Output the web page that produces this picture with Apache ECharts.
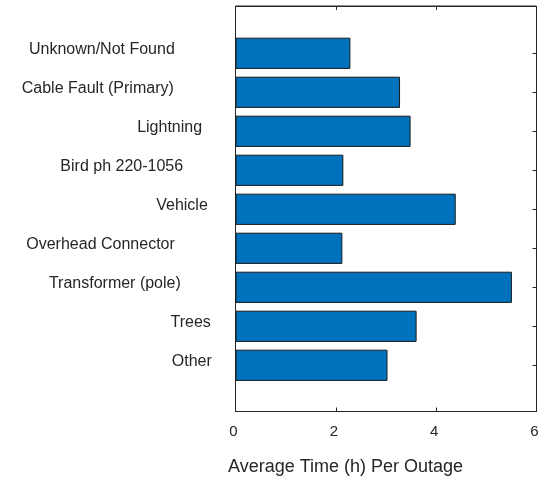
<!DOCTYPE html>
<html>
<head>
<meta charset="utf-8">
<script src="https://cdn.jsdelivr.net/npm/echarts@6/dist/echarts.min.js"></script>
<style>
html,body{margin:0;padding:0;background:#fff;}
#chart{width:543px;height:477px;}
</style>
</head>
<body>
<div id="chart"></div>
<script>
// ---- data ----
var categories = ['Unknown/Not Found', 'Cable Fault (Primary)', 'Lightning', 'Bird ph 220-1056', 'Vehicle', 'Overhead Connector', 'Transformer (pole)', 'Trees', 'Other'];
var avgHours = [2.29, 3.28, 3.49, 2.15, 4.39, 2.13, 5.51, 3.61, 3.03];
var xTickValues = [0, 2, 4, 6];
var xAxisTitle = 'Average Time (h) Per Outage';

// ---- layout / style (not data) ----
var labelRightGap = [60.7, 61.7, 33.4, 52.4, 27.7, 60.7, 54.7, 24.7, 23.7];
var TXT = '#262626';
var FONT = "'Liberation Sans', Arial, Helvetica, sans-serif";

var catItems = categories.map(function (c, i) {
  return { value: c, textStyle: { padding: [0, labelRightGap[i], 0, 0] } };
});

var chart = echarts.init(document.getElementById('chart'), null, { renderer: 'canvas' });
var xMin = xTickValues[0], xMax = xTickValues[xTickValues.length - 1];
var xInt = xTickValues[1] - xTickValues[0];

chart.setOption({
  animation: false,
  backgroundColor: '#fff',
  textStyle: { fontFamily: FONT, color: TXT },
  grid: [
    { left: 235.5, width: 301, top: 6, height: 405.5, show: true, borderColor: TXT, borderWidth: 1, backgroundColor: 'transparent', outerBoundsMode: 'none', containLabel: false },
    { left: 235.5, width: 301, top: 33.8, height: 351, show: false, outerBoundsMode: 'none', containLabel: false },
    { left: 235.5, width: 301, top: 29.8, height: 351, show: false, outerBoundsMode: 'none', containLabel: false }
  ],
  xAxis: [
    {
      gridIndex: 0, type: 'value', position: 'bottom', min: xMin, max: xMax, interval: xInt,
      name: xAxisTitle, nameLocation: 'middle', nameGap: 47,
      nameTextStyle: { fontSize: 18, color: TXT, fontFamily: FONT, padding: [0, 81, 0, 0] },
      axisLine: { show: true, lineStyle: { color: TXT, width: 1 } },
      axisTick: { show: true, inside: true, length: 4, lineStyle: { color: TXT } },
      axisLabel: { show: true, fontSize: 15, color: TXT, margin: 13, fontFamily: FONT, padding: [0, 4, 0, 0] },
      splitLine: { show: false }
    },
    {
      gridIndex: 0, type: 'value', position: 'top', min: xMin, max: xMax, interval: xInt,
      axisLine: { show: true, lineStyle: { color: TXT, width: 1 } },
      axisTick: { show: true, inside: true, length: 4, lineStyle: { color: TXT } },
      axisLabel: { show: false },
      splitLine: { show: false }
    },
    { gridIndex: 1, type: 'value', min: xMin, max: xMax, show: false, splitLine: { show: false } },
    { gridIndex: 2, type: 'value', min: xMin, max: xMax, show: false, splitLine: { show: false } }
  ],
  yAxis: [
    { gridIndex: 0, type: 'value', min: 0, max: 1, show: false, splitLine: { show: false } },
    {
      gridIndex: 1, type: 'category', position: 'left', inverse: true, data: categories,
      axisLine: { show: false },
      axisTick: { show: true, inside: true, length: 4, alignWithLabel: true, lineStyle: { color: TXT } },
      axisLabel: { show: false },
      splitLine: { show: false }
    },
    {
      gridIndex: 1, type: 'category', position: 'right', inverse: true, data: categories,
      axisLine: { show: false },
      axisTick: { show: true, inside: true, length: 4, alignWithLabel: true, lineStyle: { color: TXT } },
      axisLabel: { show: false },
      splitLine: { show: false }
    },
    {
      gridIndex: 2, type: 'category', position: 'left', inverse: true, data: catItems,
      axisLine: { show: false },
      axisTick: { show: false },
      axisLabel: { show: true, fontSize: 16, color: TXT, margin: 0, fontFamily: FONT, interval: 0 },
      splitLine: { show: false }
    }
  ],
  series: [
    {
      type: 'bar', xAxisIndex: 2, yAxisIndex: 1, data: avgHours,
      barWidth: '80%',
      itemStyle: { color: '#0072BD', borderColor: '#1a1a1a', borderWidth: 1 },
      silent: true
    }
  ]
});
</script>
</body>
</html>
